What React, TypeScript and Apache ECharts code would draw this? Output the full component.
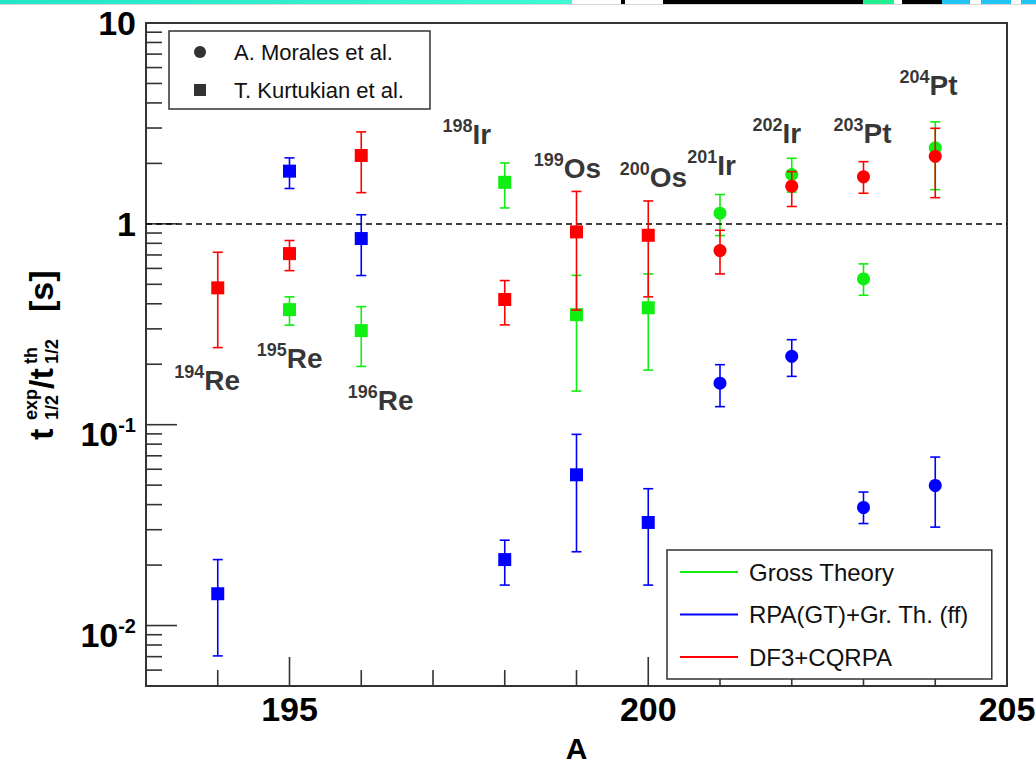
import React, { useEffect, useRef } from 'react';
import * as echarts from 'echarts';

const FONT = '"Liberation Sans", Arial, Helvetica, sans-serif';

// ---- models ----
const modelNames = ['Gross Theory', 'RPA(GT)+Gr. Th. (ff)', 'DF3+CQRPA'];
const modelColors = ['#11ee11', '#0000ff', '#ff0000'];

// Gross Theory (green)
const grossA = [195, 196, 198, 199, 200, 201, 202, 203, 204];
const grossVal = [0.374, 0.294, 1.61, 0.353, 0.382, 1.13, 1.76, 0.532, 2.39];
const grossLo = [0.313, 0.195, 1.2, 0.147, 0.187, 0.874, 1.44, 0.441, 1.48];
const grossHi = [0.433, 0.387, 2.01, 0.554, 0.563, 1.4, 2.12, 0.632, 3.22];

// RPA(GT)+Gr. Th. (ff) (blue)
const rpaA = [194, 195, 196, 198, 199, 200, 201, 202, 203, 204];
const rpaVal = [0.0144, 1.83, 0.845, 0.0213, 0.0563, 0.0326, 0.161, 0.219, 0.0387, 0.0498];
const rpaLo = [0.00706, 1.5, 0.553, 0.0159, 0.0233, 0.0159, 0.123, 0.174, 0.0322, 0.0309];
const rpaHi = [0.0213, 2.13, 1.11, 0.0266, 0.0895, 0.048, 0.199, 0.265, 0.0462, 0.069];

// DF3+CQRPA (red)
const df3A = [194, 195, 196, 198, 199, 200, 201, 202, 203, 204];
const df3Val = [0.48, 0.711, 2.19, 0.42, 0.912, 0.877, 0.736, 1.54, 1.715, 2.17];
const df3Lo = [0.242, 0.585, 1.43, 0.314, 0.372, 0.433, 0.563, 1.22, 1.42, 1.35];
const df3Hi = [0.722, 0.826, 2.87, 0.522, 1.45, 1.3, 0.929, 1.82, 2.04, 2.99];

// experiments: circles (Morales) vs squares (Kurtukian)
const experimentNames = ['A. Morales et al.', 'T. Kurtukian et al.'];
const moralesMass = [201, 202, 203, 204];

// isotope annotations (top-left anchor in data coordinates)
const isoMass = ['194', '195', '196', '198', '199', '200', '201', '202', '203', '204'];
const isoElem = ['Re', 'Re', 'Re', 'Ir', 'Os', 'Os', 'Ir', 'Ir', 'Pt', 'Pt'];
const isoX = [193.4, 194.55, 195.82, 197.14, 198.41, 199.61, 200.55, 201.46, 202.59, 203.51];
const isoY = [0.201, 0.259, 0.16, 3.39, 2.29, 2.07, 2.37, 3.42, 3.42, 5.94];

// axes
const xMin = 193;
const xMax = 205;
const yMin = 0.005;
const yMax = 10;
const xLabelValues = [195, 200, 205];
const refLineValue = 1;

function buildModel(a: number[], v: number[], lo: number[], hi: number[]) {
  return a.map((x, i) => [x, v[i], lo[i], hi[i]]);
}

function errRender(color: string) {
  return (params: any, api: any) => {
    const a = api.value(0);
    const p = api.coord([a, api.value(1)]);
    const pl = api.coord([a, api.value(2)]);
    const ph = api.coord([a, api.value(3)]);
    const cap = 5;
    const ls = { stroke: color, lineWidth: 1.6 };
    const children: any[] = [
      { type: 'line', shape: { x1: p[0], y1: pl[1], x2: p[0], y2: ph[1] }, style: ls },
      { type: 'line', shape: { x1: p[0] - cap, y1: pl[1], x2: p[0] + cap, y2: pl[1] }, style: ls },
      { type: 'line', shape: { x1: p[0] - cap, y1: ph[1], x2: p[0] + cap, y2: ph[1] }, style: ls },
    ];
    if (moralesMass.includes(a)) {
      children.push({ type: 'circle', shape: { cx: p[0], cy: p[1], r: 6.5 }, style: { fill: color } });
    } else {
      children.push({ type: 'rect', shape: { x: p[0] - 6.5, y: p[1] - 6.5, width: 13, height: 13 }, style: { fill: color } });
    }
    return { type: 'group', children };
  };
}

export default function App() {
  const ref = useRef<HTMLDivElement>(null);
  useEffect(() => {
    document.body.style.margin = '0';
    const chart = echarts.init(ref.current!, null, { renderer: 'svg' });

    // tick marks (minor/major) generated from axis ranges
    const yTicks: number[][] = [];
    for (let k = -3; k <= 0; k++) {
      for (let m = 1; m <= 9; m++) {
        const v = m * Math.pow(10, k);
        if (v > yMin * 1.0001 && v < yMax * 0.9999) yTicks.push([xMin, v, m === 1 ? 31 : 16]);
      }
    }
    const xTicks: number[][] = [];
    for (let a = xMin + 1; a < xMax; a++) xTicks.push([a, yMin, a % 5 === 0 ? 29 : 16]);

    const models = [
      buildModel(grossA, grossVal, grossLo, grossHi),
      buildModel(rpaA, rpaVal, rpaLo, rpaHi),
      buildModel(df3A, df3Val, df3Lo, df3Hi),
    ];

    const mainFont = `bold 34px ${FONT}`;
    const smallFont = `bold 18px ${FONT}`;
    const txt = (u: number, w: number, text: string, font: string) => ({
      type: 'text',
      x: u,
      y: w,
      style: { text, font, fill: '#000', align: 'left', verticalAlign: 'middle', textAlign: 'left', textVerticalAlign: 'middle' },
    });

    const strip = [
      { x: 0, w: 572, c: { type: 'linear', x: 0, y: 0, x2: 1, y2: 0, colorStops: [{ offset: 0, color: '#22e6c6' }, { offset: 1, color: '#40f8d4' }] } },
      { x: 621, w: 4, c: '#000' },
      { x: 663, w: 200, c: '#000' },
      { x: 863, w: 31, c: '#22f090' },
      { x: 902, w: 40, c: '#000' },
      { x: 942, w: 28, c: '#22c4f4' },
      { x: 981, w: 30, c: '#22c4f4' },
      { x: 1021, w: 15, c: '#22c4f4' },
    ];

    const option: any = {
      animation: false,
      backgroundColor: '#fff',
      textStyle: { fontFamily: FONT },
      grid: {
        left: 146, top: 23, right: 29, bottom: 78,
        show: true, borderColor: '#333', borderWidth: 2, backgroundColor: 'transparent',
        containLabel: false, outerBoundsMode: 'none',
      },
      xAxis: {
        type: 'value', min: xMin, max: xMax, interval: 1,
        name: 'A', nameLocation: 'middle', nameGap: 47, nameMoveOverlap: false,
        nameTextStyle: { fontSize: 30, lineHeight: 30, fontWeight: 'bold', color: '#000', fontFamily: FONT },
        axisLine: { show: false }, axisTick: { show: false }, splitLine: { show: false },
        axisLabel: {
          margin: 6, fontSize: 34, fontWeight: 'bold', color: '#000', fontFamily: FONT,
          showMinLabel: true, showMaxLabel: true,
          formatter: (v: number) => (xLabelValues.includes(Math.round(v)) && Math.abs(v - Math.round(v)) < 1e-6 ? String(Math.round(v)) : ''),
        },
      },
      yAxis: {
        type: 'log', logBase: 10, min: yMin, max: yMax,
        axisLine: { show: false }, axisTick: { show: false }, splitLine: { show: false },
        axisLabel: {
          margin: 10, color: '#000', fontFamily: FONT,
          formatter: (v: number) => {
            const e = Math.log10(v);
            const r = Math.round(e);
            if (Math.abs(e - r) > 1e-6) return '';
            if (r === 1) return '{b|10}';
            if (r === 0) return '{b|1}';
            return `{p|10}{s|${r}}`;
          },
          rich: {
            b: { fontSize: 34, fontWeight: 'bold', lineHeight: 34, color: '#000', fontFamily: FONT },
            p: { fontSize: 34, fontWeight: 'bold', lineHeight: 34, padding: [19, 0, 0, 0], color: '#000', fontFamily: FONT },
            s: { fontSize: 20, fontWeight: 'bold', lineHeight: 20, verticalAlign: 'middle', color: '#000', fontFamily: FONT },
          },
        },
      },
      legend: [
        {
          data: [
            { name: experimentNames[0], icon: 'circle' },
            { name: experimentNames[1], icon: 'rect' },
          ],
          orient: 'vertical', left: 169, top: 31,
          itemWidth: 12, itemHeight: 12, itemGap: 16,
          padding: [10, 26, 8, 25],
          borderColor: '#333', borderWidth: 1.5, backgroundColor: '#fff',
          selectedMode: false,
          textStyle: { fontSize: 22, color: '#111', fontFamily: FONT, padding: [0, 0, 0, 23] },
        },
        {
          data: modelNames.map((n) => ({ name: n, icon: 'rect' })),
          orient: 'vertical', left: 667, top: 550,
          itemWidth: 58, itemHeight: 2, itemGap: 18.5,
          padding: [10, 23, 10, 13],
          borderColor: '#333', borderWidth: 1.5, backgroundColor: '#fff',
          selectedMode: false,
          textStyle: { fontSize: 24, color: '#111', fontFamily: FONT, padding: [0, 0, 0, 6] },
        },
      ],
      graphic: [
        ...strip.map((s) => ({ type: 'rect', shape: { x: s.x, y: 0, width: s.w, height: 4 }, style: { fill: s.c }, z: 100 })),
        { type: 'rect', shape: { x: 0, y: 4, width: 1036, height: 1 }, style: { fill: '#d8d8d8' }, z: 100 },
        {
          type: 'group', x: 0, y: 440, rotation: Math.PI / 2,
          children: [
            txt(0, 41, 't', mainFont),
            txt(20, 31, 'exp', smallFont),
            txt(20, 52, '1/2', smallFont),
            txt(51, 41, '/t', mainFont),
            txt(76, 31, 'th', smallFont),
            txt(76, 52, '1/2', smallFont),
            txt(128, 41, '[s]', mainFont),
          ],
        },
      ],
      series: [
        {
          type: 'custom', name: 'yticks', silent: true, z: 2, clip: false,
          data: yTicks, encode: { x: 0, y: 1 },
          renderItem: (params: any, api: any) => {
            const p = api.coord([api.value(0), api.value(1)]);
            const x0 = params.coordSys.x;
            return { type: 'line', shape: { x1: x0, y1: p[1], x2: x0 + api.value(2), y2: p[1] }, style: { stroke: '#333', lineWidth: 1.6 } };
          },
        },
        {
          type: 'custom', name: 'xticks', silent: true, z: 2, clip: false,
          data: xTicks, encode: { x: 0, y: 1 },
          renderItem: (params: any, api: any) => {
            const p = api.coord([api.value(0), api.value(1)]);
            const y0 = params.coordSys.y + params.coordSys.height;
            return { type: 'line', shape: { x1: p[0], y1: y0, x2: p[0], y2: y0 - api.value(2) }, style: { stroke: '#333', lineWidth: 1.6 } };
          },
        },
        {
          type: 'scatter', name: 'unity', data: [], silent: true, z: 2,
          markLine: {
            silent: true, symbol: ['none', 'none'], label: { show: false },
            lineStyle: { color: '#000', type: [6, 4], width: 1.5 },
            data: [{ yAxis: refLineValue }],
          },
        },
        ...models.map((d, i) => ({
          type: 'custom', name: modelNames[i], z: 3 + i, clip: false,
          itemStyle: { color: modelColors[i] },
          data: d, encode: { x: 0, y: 1 },
          renderItem: errRender(modelColors[i]),
        })),
        { type: 'scatter', name: experimentNames[0], data: [], symbol: 'circle', itemStyle: { color: '#000' } },
        { type: 'scatter', name: experimentNames[1], data: [], symbol: 'rect', itemStyle: { color: '#000' } },
        {
          type: 'scatter', name: 'isotopes', silent: true, z: 6,
          symbolSize: 1, itemStyle: { color: 'rgba(0,0,0,0)' },
          data: isoX.map((x, i) => [x, isoY[i]]),
          label: {
            show: true, position: [0, 0], align: 'left', verticalAlign: 'top',
            formatter: (p: any) => `{s|${isoMass[p.dataIndex]}}{e|${isoElem[p.dataIndex]}}`,
            rich: {
              s: { fontSize: 18, fontWeight: 'bold', lineHeight: 18, verticalAlign: 'top', color: '#000', fontFamily: FONT },
              e: { fontSize: 28, fontWeight: 'bold', lineHeight: 28, padding: [7, 0, 0, 0], color: '#000', fontFamily: FONT },
            },
          },
        },
      ],
    };
    chart.setOption(option);
    return () => chart.dispose();
  }, []);
  return <div ref={ref} style={{ position: 'absolute', left: 0, top: 0, width: 1036, height: 764, background: '#fff' }} />;
}
